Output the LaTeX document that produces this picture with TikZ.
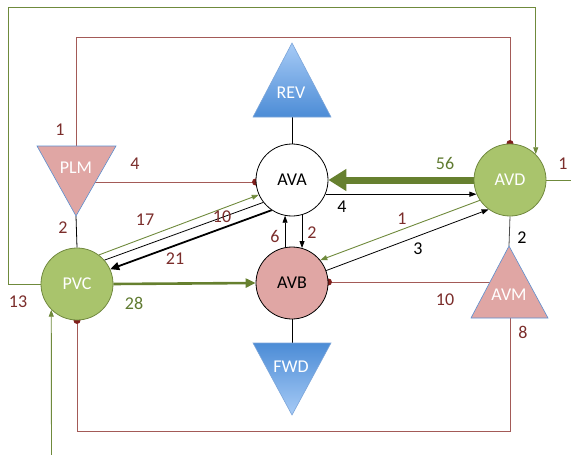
\documentclass[tikz,border=0pt]{standalone}
\usepackage{fontspec}
\setmainfont{Carlito}
\usetikzlibrary{arrows.meta,backgrounds}

\definecolor{gfill}{HTML}{A9C46C}
\definecolor{gdraw}{HTML}{71893F}
\definecolor{gline}{HTML}{6F8A3C}
\definecolor{gthick}{HTML}{66802F}
\definecolor{pfill}{HTML}{E0A6A4}
\definecolor{rline}{HTML}{A35A57}
\definecolor{rdot}{HTML}{7F1F1C}
\definecolor{lred}{HTML}{7B2D2B}
\definecolor{lgreen}{HTML}{5F7A30}
\definecolor{bdark}{HTML}{4C8CD6}
\definecolor{blight}{HTML}{A7CBF6}
\definecolor{bedge}{HTML}{5B8FD0}

\begin{document}
\begin{tikzpicture}[x=1pt,y=-1pt,
  font=\fontsize{18}{20}\selectfont,
  state/.style={circle,minimum size=72pt,inner sep=0pt,line width=0.8pt},
  gstate/.style={state,fill=gfill,draw=gdraw,text=white},
  pstate/.style={state,fill=pfill,draw=black,text=black},
  wstate/.style={state,fill=white,draw=black,text=black},
  tritext/.style={text=white,inner sep=0pt},
  pinktri/.style={fill=pfill,draw=bedge,line width=0.6pt},
  bluetri/.style={draw=bedge!80,line width=0.6pt},
  lbl/.style={inner sep=0pt},
  redlink/.style={draw=rline,line width=0.9pt},
  dotend/.style={-{Circle[length=7pt,width=7pt,fill=rdot,color=rdot]},shorten >=-3.5pt},
  greenlink/.style={draw=gline,line width=0.9pt},
  blacklink/.style={draw=black,line width=0.8pt},
  smalltip/.style={-{Triangle[length=7pt,width=5pt]}},
]
\useasboundingbox (0,0) rectangle (571,455);

% circular states
\node[wstate] (ava) at (292,180) {AVA};
\node[pstate] (avb) at (292,283) {AVB};
\node[gstate] (pvc) at (77,284) {PVC};
\node[gstate] (avd) at (510,180) {AVD};

% triangular states
\coordinate (plm-a) at (37,146);
\coordinate (plm-b) at (116,146);
\coordinate (plm-n) at (76,146);
\coordinate (plm-s) at (76,216);
\coordinate (plm-e) at (95.4,182);
\path[pinktri] (plm-a) -- (plm-b) -- (plm-s) -- cycle;
\node[tritext] (plm) at (76,168) {PLM};

\coordinate (avm-n) at (509,246);
\coordinate (avm-l) at (471,318);
\coordinate (avm-r) at (548,318);
\coordinate (avm-s) at (510,318);
\coordinate (avm-w) at (490,282);
\path[pinktri] (avm-n) -- (avm-r) -- (avm-l) -- cycle;
\node[tritext] (avm) at (509,295) {AVM};

\coordinate (rev-n) at (292,43);
\coordinate (rev-l) at (253,117);
\coordinate (rev-r) at (331,117);
\coordinate (rev-s) at (292,117);
\shade[top color=blight,bottom color=bdark] (rev-n) -- (rev-r) -- (rev-l) -- cycle;
\path[bluetri] (rev-n) -- (rev-r) -- (rev-l) -- cycle;
\node[tritext] (rev) at (291,93) {REV};

\coordinate (fwd-l) at (253,343);
\coordinate (fwd-r) at (331,343);
\coordinate (fwd-n) at (292,343);
\coordinate (fwd-s) at (292,415);
\shade[top color=bdark,bottom color=blight] (fwd-l) -- (fwd-r) -- (fwd-s) -- cycle;
\path[bluetri] (fwd-l) -- (fwd-r) -- (fwd-s) -- cycle;
\node[tritext] (fwd) at (291,367) {FWD};

\coordinate (inflow) at (51.5,455);
\coordinate (outflow) at (571,180);

\begin{scope}[on background layer]
  % outer loops
  \draw[greenlink,-{Triangle[length=7pt,width=5pt]}] (pvc.west) -| (8,7) -| (avd.north east);
  \draw[redlink,dotend] (plm-n) -- (76,37) -| (avd.north);
  \draw[redlink,dotend] (avm-s) -- (510,431) -| (pvc.south);
  \draw[greenlink,smalltip] (inflow) -- (pvc.south west);
  \draw[greenlink] (avd.east) -- (outflow);

  % short links
  \draw[redlink,dotend] (plm-e) -- (plm-e -| ava.west);
  \draw[redlink,dotend] (avm-w) -- (avm-w -| avb.east);
  \draw[blacklink] (plm-s) -- (pvc.north);
  \draw[blacklink] (rev-s) -- (ava.north);
  \draw[blacklink] (avb.south) -- (fwd-n);
  \draw[draw=black!70,line width=0.8pt] (avd.south) -- (avm-n);

  % flows between states
  \draw[draw=gthick,line width=7pt,-{Triangle[length=18pt,width=21pt]}] (avd.west) -- (ava.east);
  \draw[blacklink,smalltip] (ava.-23) -- (avd.203);
  \draw[draw=gthick,line width=2.6pt,-{Triangle[length=10pt,width=9pt]}] (pvc.east) -- (avb.west);
  \draw[greenlink,smalltip] (pvc.53) -- (ava.204);
  \draw[blacklink] (pvc.41) -- (ava.218);
  \draw[draw=black,line width=1.8pt,-{Triangle[length=9pt,width=8pt]}] (ava.236) -- (pvc.24);
  \draw[blacklink,smalltip] (avb.101) -- (ava.259);
  \draw[blacklink,smalltip] (ava.-74) -- (avb.74);
  \draw[greenlink,smalltip] (avd.214) -- (avb.39);
  \draw[blacklink,smalltip] (avb.20) -- (avd.234);
\end{scope}

% flow labels
\node[lbl,text=lred] (t1) at (60,130) {1};
\node[lbl,text=lred] (t2) at (135,164) {4};
\node[lbl,text=lred] (t3) at (63,228) {2};
\node[lbl,text=lred] (t4) at (145,220) {17};
\node[lbl,text=lred] (t5) at (222,217) {10};
\node[lbl,text=lred] (t6) at (175,259) {21};
\node[lbl,text=lred] (t7) at (275,236) {6};
\node[lbl,text=lred] (t8) at (312,233) {2};
\node[lbl,text=lgreen] (t9) at (445,163) {56};
\node[lbl,text=black] (t10) at (342,207) {4};
\node[lbl,text=lred] (t11) at (563,164) {1};
\node[lbl,text=lred] (t12) at (402,219) {1};
\node[lbl,text=black] (t13) at (418,249) {3};
\node[lbl,text=black] (t14) at (522,238) {2};
\node[lbl,text=lred] (t15) at (445,300) {10};
\node[lbl,text=lred] (t16) at (523,332) {8};
\node[lbl,text=lred] (t17) at (18,302) {13};
\node[lbl,text=lgreen] (t18) at (134,303) {28};
\end{tikzpicture}
\end{document}
